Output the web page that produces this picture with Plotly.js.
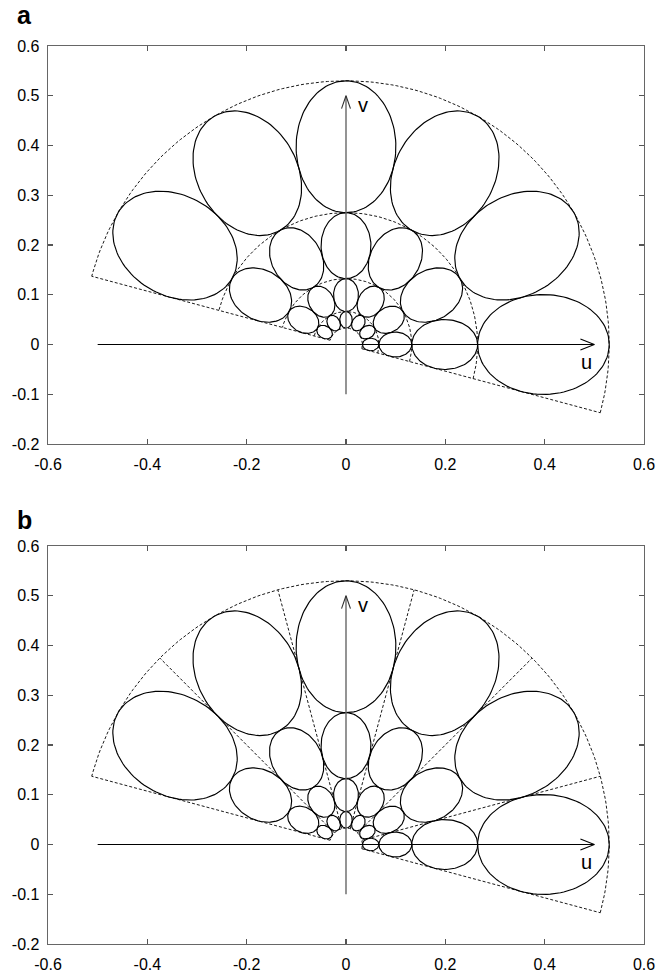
<!DOCTYPE html>
<html>
<head>
<meta charset="utf-8">
<script src="https://cdn.plot.ly/plotly-3.0.1.min.js"></script>
<style>
  html, body { margin: 0; padding: 0; background: #fff; }
  #chart { width: 671px; height: 973px; }
</style>
</head>
<body>
<div id="chart"></div>
<script>
// ---- chart data (geometry of the log-polar cell layout) ----
const ringRadii = [0.53, 0.265, 0.1325, 0.06625, 0.033125];   // ring boundaries (outer -> inner)
const cellCenterAngles = [0, 30, 60, 90, 120, 150];           // degrees, centre of each cell
const cellHalfAngle = 15;                                      // degrees
const sectorStart = -15;                                       // degrees
const sectorEnd = 165;                                         // degrees
const panelAArcRadii = [0.53, 0.265, 0.1325, 0.06625, 0.033125];
const panelARayAngles = [-15, 165];
const panelBArcRadii = [0.53, 0.033125];
const panelBRayAngles = [-15, 15, 45, 75, 105, 135, 165];
const uAxisRange = [-0.5, 0.5];
const vAxisRange = [-0.1, 0.5];
const xTickVals = [-0.6, -0.4, -0.2, 0, 0.2, 0.4, 0.6];
const xTickText = ['-0.6', '-0.4', '-0.2', '0', '0.2', '0.4', '0.6'];
const yTickVals = [-0.2, -0.1, 0, 0.1, 0.2, 0.3, 0.4, 0.5, 0.6];
const yTickText = ['-0.2', '-0.1', '0', '0.1', '0.2', '0.3', '0.4', '0.5', '0.6'];
const panelLabels = ['a', 'b'];
const axisLabels = ['u', 'v'];

// ---- helpers ----
const D = Math.PI / 180;
const FONT = 'Liberation Sans, Arial, Helvetica, sans-serif';

function ellipsePoints() {
  const xs = [], ys = [];
  for (let k = 0; k < ringRadii.length - 1; k++) {
    const rOut = ringRadii[k], rIn = ringRadii[k + 1];
    const rc = (rOut + rIn) / 2;           // centre radius
    const a = (rOut - rIn) / 2;            // radial semi-axis
    const b = Math.tan(cellHalfAngle * D) * Math.sqrt(rc * rc - a * a); // tangential semi-axis (tangent to rays)
    cellCenterAngles.forEach(th => {
      const t = th * D;
      const cx = rc * Math.cos(t), cy = rc * Math.sin(t);
      for (let i = 0; i <= 120; i++) {
        const p = 2 * Math.PI * i / 120;
        const lx = a * Math.cos(p), ly = b * Math.sin(p);
        xs.push(cx + lx * Math.cos(t) - ly * Math.sin(t));
        ys.push(cy + lx * Math.sin(t) + ly * Math.cos(t));
      }
      xs.push(null); ys.push(null);
    });
  }
  return {xs, ys};
}

function dashedPoints(arcRadii, rayAngles) {
  const xs = [], ys = [];
  arcRadii.forEach(r => {
    for (let i = 0; i <= 180; i++) {
      const t = (sectorStart + (sectorEnd - sectorStart) * i / 180) * D;
      xs.push(r * Math.cos(t)); ys.push(r * Math.sin(t));
    }
    xs.push(null); ys.push(null);
  });
  const rMin = ringRadii[ringRadii.length - 1], rMax = ringRadii[0];
  rayAngles.forEach(th => {
    const t = th * D;
    xs.push(rMin * Math.cos(t), rMax * Math.cos(t), null);
    ys.push(rMin * Math.sin(t), rMax * Math.sin(t), null);
  });
  return {xs, ys};
}

const ell = ellipsePoints();
const traces = [];
[['x', 'y', panelAArcRadii, panelARayAngles], ['x2', 'y2', panelBArcRadii, panelBRayAngles]].forEach(([xa, ya, arcs, rays]) => {
  const d = dashedPoints(arcs, rays);
  traces.push({x: d.xs, y: d.ys, xaxis: xa, yaxis: ya, mode: 'lines', connectgaps: false,
    line: {color: '#000', width: 0.9, dash: '3px,2px'}, hoverinfo: 'skip'});
  traces.push({x: ell.xs, y: ell.ys, xaxis: xa, yaxis: ya, mode: 'lines', connectgaps: false,
    line: {color: '#000', width: 1.15}, hoverinfo: 'skip'});
  // u axis
  traces.push({x: uAxisRange, y: [0, 0], xaxis: xa, yaxis: ya, mode: 'lines',
    line: {color: '#000', width: 1.2}, hoverinfo: 'skip'});
  traces.push({x: [uAxisRange[1] - 0.028, uAxisRange[1], uAxisRange[1] - 0.028], y: [0.011, 0, -0.011],
    xaxis: xa, yaxis: ya, mode: 'lines', line: {color: '#000', width: 1.1}, hoverinfo: 'skip'});
  // v axis
  traces.push({x: [0, 0], y: vAxisRange, xaxis: xa, yaxis: ya, mode: 'lines',
    line: {color: '#666', width: 1.4}, hoverinfo: 'skip'});
  traces.push({x: [-0.009, 0, 0.009], y: [vAxisRange[1] - 0.026, vAxisRange[1], vAxisRange[1] - 0.026],
    xaxis: xa, yaxis: ya, mode: 'lines', line: {color: '#333', width: 1.1}, hoverinfo: 'skip'});
});

function axisCfg(range, tv, tt, domain, anchor, standoff) {
  return {
    range: range, domain: domain, anchor: anchor, fixedrange: true,
    tickmode: 'array', tickvals: tv, ticktext: tt,
    ticks: 'inside', ticklen: 5, tickwidth: 1.2, tickcolor: '#555',
    showline: true, linecolor: '#666', linewidth: 1.4, mirror: 'ticks',
    showgrid: false, zeroline: false, ticklabelstandoff: standoff,
    tickfont: {family: FONT, size: 16, color: '#000'}
  };
}

const domA = [0.5568, 1], domB = [0, 0.4432];
const annotations = [];
[['x', 'y'], ['x2', 'y2']].forEach(([xr, yr]) => {
  annotations.push({text: axisLabels[0], x: 0.485, y: -0.035, xref: xr, yref: yr, showarrow: false,
    xanchor: 'center', yanchor: 'middle', font: {family: FONT, size: 20, color: '#000'}});
  annotations.push({text: axisLabels[1], x: 0.034, y: 0.482, xref: xr, yref: yr, showarrow: false,
    xanchor: 'center', yanchor: 'middle', font: {family: FONT, size: 20, color: '#000'}});
});
annotations.push({text: '<b>' + panelLabels[0] + '</b>', x: -0.04, y: 1.034, xref: 'paper', yref: 'paper',
  xanchor: 'center', yanchor: 'middle', showarrow: false, font: {family: FONT, size: 25, color: '#000'}});
annotations.push({text: '<b>' + panelLabels[1] + '</b>', x: -0.04, y: 0.472, xref: 'paper', yref: 'paper',
  xanchor: 'center', yanchor: 'middle', showarrow: false, font: {family: FONT, size: 25, color: '#000'}});

const layout = {
  width: 671, height: 973,
  margin: {l: 48, r: 27, t: 46, b: 29},
  paper_bgcolor: '#fff', plot_bgcolor: '#fff',
  showlegend: false,
  xaxis: axisCfg([-0.6, 0.6], xTickVals, xTickText, [0, 1], 'y', 5),
  yaxis: axisCfg([-0.2, 0.6], yTickVals, yTickText, domA, 'x', 4),
  xaxis2: axisCfg([-0.6, 0.6], xTickVals, xTickText, [0, 1], 'y2', 5),
  yaxis2: axisCfg([-0.2, 0.6], yTickVals, yTickText, domB, 'x2', 4),
  annotations: annotations
};

Plotly.newPlot('chart', traces, layout, {staticPlot: true, displayModeBar: false});
</script>
</body>
</html>
